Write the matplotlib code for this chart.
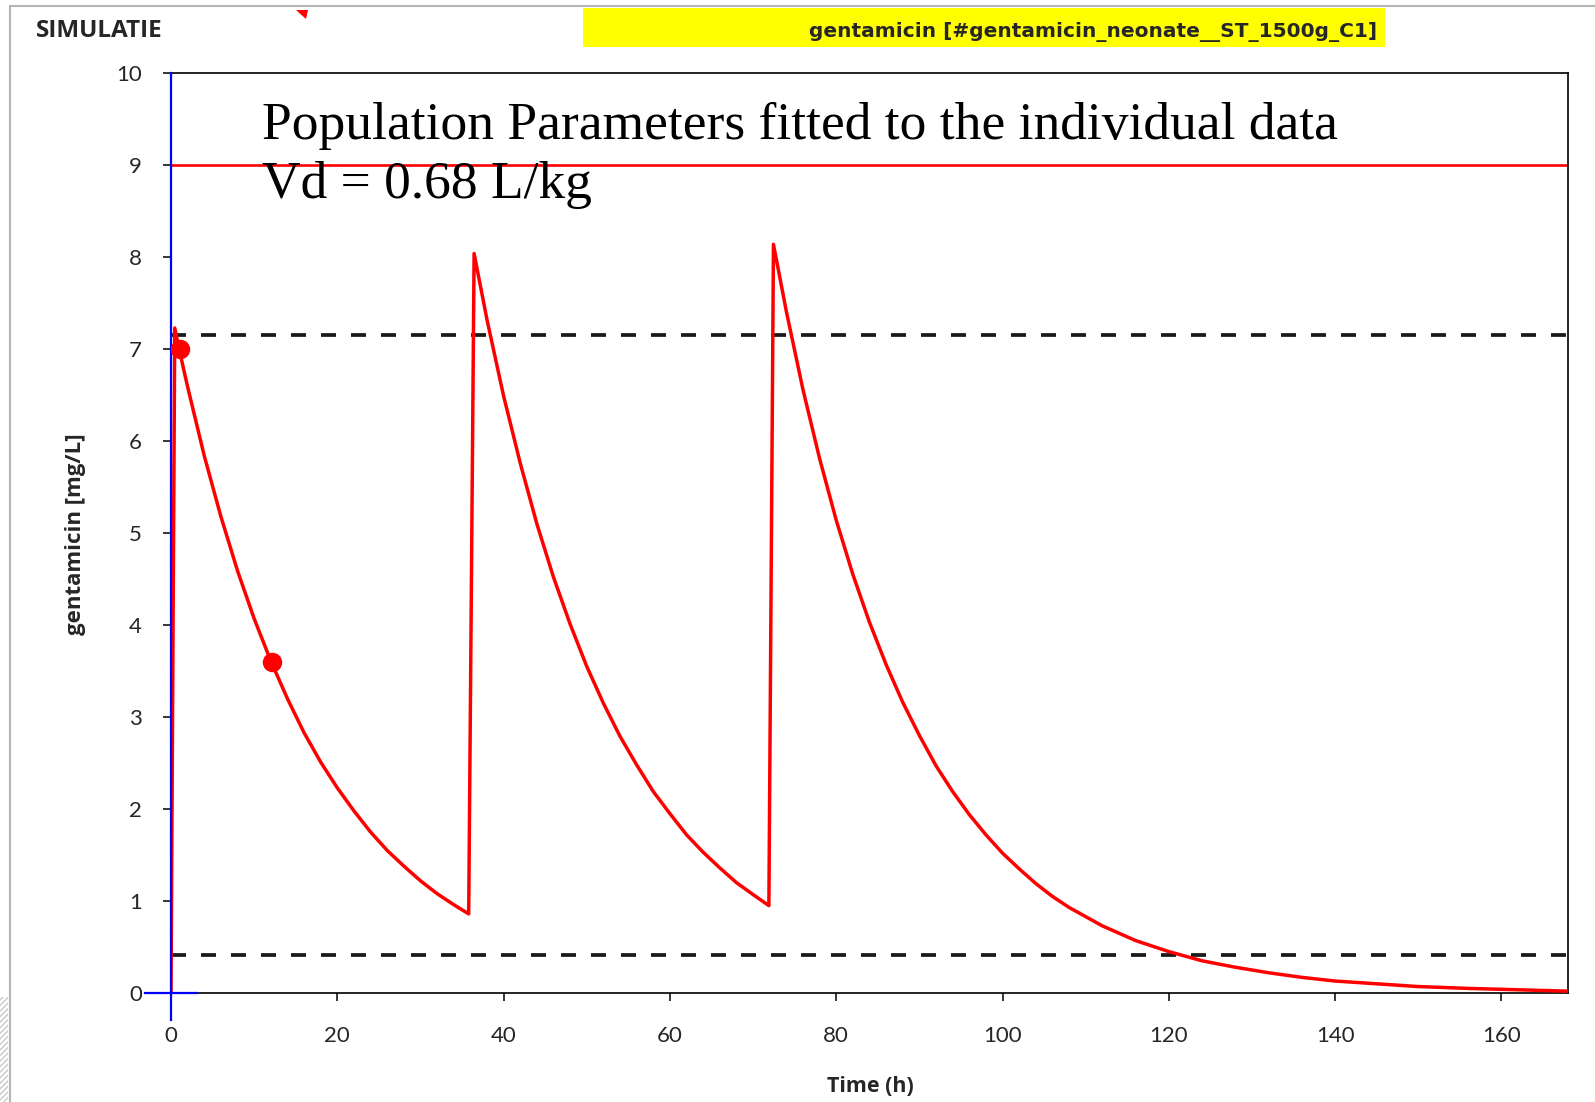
import matplotlib
matplotlib.use("Agg")
import matplotlib.pyplot as plt
from matplotlib.patches import Rectangle, Polygon

# Simulated gentamicin concentration (mg/L) versus time (h), three doses every 36 h
time_h = [0, 0.45, 1.1, 2, 4, 6, 8, 10, 12, 14, 16, 18, 20, 22, 24, 26, 28, 30,
          32, 34, 35.8,
          36.45, 38, 40, 42, 44, 46, 48, 50, 52, 54, 56, 58, 60, 62, 64, 66,
          68, 70, 71.9,
          72.45, 74, 76, 78, 80, 82, 84, 86, 88, 90, 92, 94, 96, 98, 100, 102,
          104, 106, 108, 110, 112, 114, 116, 118, 120, 124, 128, 132, 136, 140,
          145, 150, 156, 162, 168]
conc_mg_l = [0, 7.23, 6.95, 6.59, 5.84, 5.18, 4.59, 4.07, 3.61, 3.20, 2.83,
             2.51, 2.23, 1.98, 1.75, 1.55, 1.38, 1.22, 1.08, 0.96, 0.86,
             8.04, 7.32, 6.49, 5.76, 5.10, 4.52, 4.01, 3.55, 3.15, 2.79, 2.48,
             2.19, 1.95, 1.72, 1.53, 1.36, 1.20, 1.07, 0.95,
             8.14, 7.41, 6.56, 5.81, 5.14, 4.55, 4.03, 3.57, 3.16, 2.80, 2.47,
             2.19, 1.94, 1.72, 1.52, 1.35, 1.19, 1.05, 0.93, 0.83, 0.73, 0.65,
             0.57, 0.51, 0.45, 0.35, 0.28, 0.22, 0.17, 0.13, 0.10, 0.07, 0.05,
             0.035, 0.02]

# Measured levels
obs_time_h = [1.1, 12.2]
obs_conc_mg_l = [7.0, 3.6]

# Reference levels
upper_limit = 9.0
peak_target = 7.15
trough_target = 0.41

x_ticks = [0, 20, 40, 60, 80, 100, 120, 140, 160]
y_ticks = [0, 1, 2, 3, 4, 5, 6, 7, 8, 9, 10]

title_text = "gentamicin [#gentamicin_neonate__ST_1500g_C1]"
note_lines = ["Population Parameters fitted to the individual data",
              "Vd = 0.68 L/kg"]

SANS = ["Open Sans", "DejaVu Sans"]
SERIF = ["Liberation Serif", "DejaVu Serif"]
TEXT_GREY = "#262626"

W, H = 1595, 1102
fig = plt.figure(figsize=(W / 100, H / 100), dpi=100)
fig.patch.set_facecolor("white")

ax = fig.add_axes([171 / W, 1 - 993 / H, (1568 - 171) / W, (993 - 73.2) / H])
ax.set_xlim(0, 168)
ax.set_ylim(0, 10)

# Frame
for side in ("top", "right", "bottom"):
    ax.spines[side].set_color("black")
    ax.spines[side].set_linewidth(1.2)
ax.spines["left"].set_visible(False)
ax.plot([0, 0], [-0.29, 10], color="#0000ff", lw=1.6, clip_on=False, zorder=5)
ax.plot([-3.1, 3.1], [0, 0], color="#0000ff", lw=1.6, clip_on=False, zorder=5)

ax.set_xticks(x_ticks)
ax.set_yticks(y_ticks)
ax.tick_params(axis="both", direction="out", length=5.8, width=1.1,
               color="black", labelsize=16, labelcolor=TEXT_GREY)
ax.tick_params(axis="x", pad=18)
ax.tick_params(axis="y", pad=15)
for lab in ax.get_xticklabels() + ax.get_yticklabels():
    lab.set_family(["Lato", "DejaVu Sans"])

# Reference lines
ax.axhline(upper_limit, color="#ff0000", lw=1.9, zorder=2)
for lvl in (peak_target, trough_target):
    ax.axhline(lvl, color="#1a1a1a", lw=2.7, dashes=(4, 4), zorder=2)

# Concentration curve and measurements
ax.plot(time_h, conc_mg_l, color="#ff0000", lw=2.5, zorder=4,
        solid_joinstyle="round")
ax.plot(obs_time_h, obs_conc_mg_l, "o", color="#ff0000", ms=13, zorder=6)

# Annotation text
ax.text(10.9, 9.28, note_lines[0], family=SERIF, fontsize=38.5,
        va="baseline", ha="left", color="black", zorder=7)
ax.text(10.9, 8.64, note_lines[1], family=SERIF, fontsize=38.5,
        va="baseline", ha="left", color="black", zorder=7)

# Axis titles
fig.text(870 / W, 1 - 1087 / H, "Time (h)", ha="center", va="center",
         fontsize=15.5, fontweight="bold", family=SANS, color=TEXT_GREY)
fig.text(76 / W, 1 - 534 / H, "gentamicin [mg/L]", ha="center", va="center",
         rotation=90, fontsize=16, fontweight="bold", family=SANS,
         color=TEXT_GREY)

# Header
fig.text(36 / W, 1 - 31 / H, "SIMULATIE", ha="left", va="center",
         fontsize=17.5, fontweight="bold", family=SANS, color=TEXT_GREY)
fig.patches.append(Rectangle((583 / W, 1 - 47 / H), (1385 - 583) / W, 39 / H,
                             transform=fig.transFigure, facecolor="#ffff00",
                             edgecolor="none", zorder=1))
fig.text(1377 / W, 1 - 31.5 / H, title_text, ha="right", va="center",
         fontsize=14.5, fontweight="bold",
         family=["Liberation Sans Narrow", "DejaVu Sans"], color=TEXT_GREY,
         zorder=2)
fig.patches.append(Polygon([(296 / W, 1 - 10 / H), (308 / W, 1 - 10 / H),
                            (306 / W, 1 - 19 / H)], closed=True,
                           transform=fig.transFigure, facecolor="#ff0000",
                           edgecolor="none"))

# Sheet border
fig.add_artist(plt.Line2D([10 / W, 1], [1 - 6 / H, 1 - 6 / H],
                          transform=fig.transFigure, color="#b4b4b4", lw=1.5))
fig.add_artist(plt.Line2D([10 / W, 10 / W], [0, 1 - 6 / H],
                          transform=fig.transFigure, color="#b4b4b4", lw=1.5))
fig.patches.append(Rectangle((0, 0), 8 / W, 105 / H, transform=fig.transFigure,
                             facecolor="white", edgecolor="#c8c8c8", lw=0,
                             hatch="//////"))

fig.savefig("out.png", dpi=100)
